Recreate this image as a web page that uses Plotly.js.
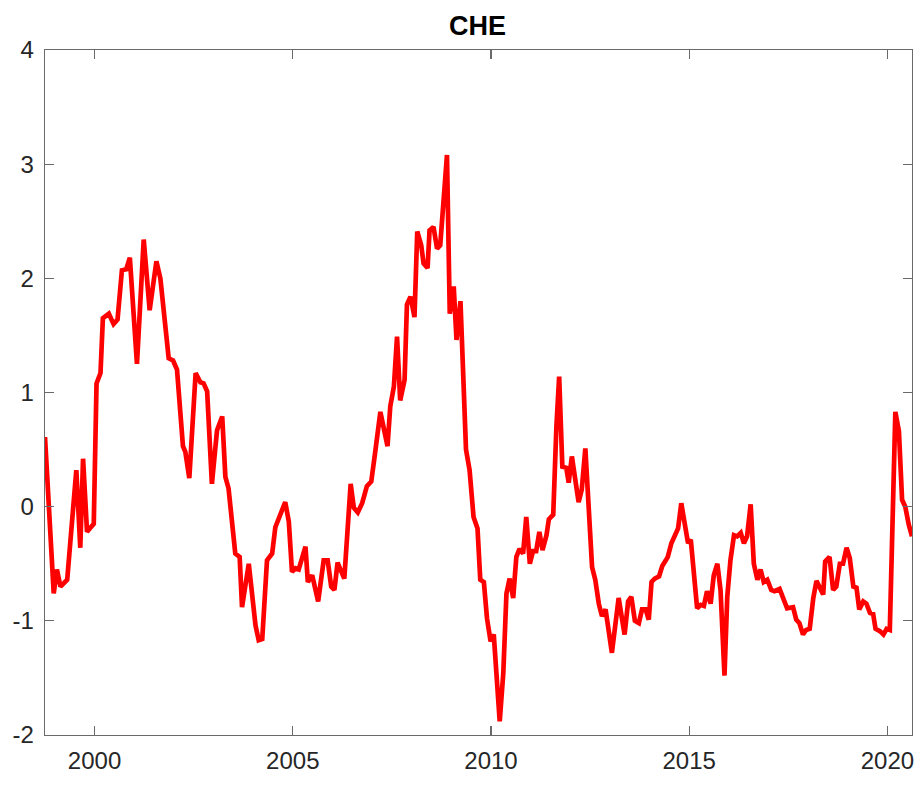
<!DOCTYPE html>
<html>
<head>
<meta charset="utf-8">
<script src="https://cdn.plot.ly/plotly-3.0.1.min.js"></script>
<style>
html, body { margin: 0; padding: 0; background: #ffffff; }
#chart { width: 922px; height: 785px; }
</style>
</head>
<body>
<div id="chart"></div>
<script>
// Time (decimal years) and CHE series values
const dates = [
  1998.75, 1998.97, 1999.05, 1999.14, 1999.31, 1999.41, 1999.54, 1999.64, 1999.71, 1999.81,
  1999.98, 2000.05, 2000.15, 2000.21, 2000.36, 2000.48, 2000.58, 2000.69, 2000.80, 2000.89,
  2001.07, 2001.24, 2001.39, 2001.56, 2001.66, 2001.87, 2001.98, 2002.08, 2002.23, 2002.29,
  2002.39, 2002.55, 2002.67, 2002.75, 2002.84, 2002.96, 2003.09, 2003.22, 2003.30, 2003.38,
  2003.55, 2003.66, 2003.72, 2003.89, 2004.06, 2004.14, 2004.23, 2004.35, 2004.48, 2004.56,
  2004.67, 2004.81, 2004.90, 2004.98, 2005.07, 2005.15, 2005.32, 2005.38, 2005.49, 2005.64,
  2005.78, 2005.88, 2005.97, 2006.05, 2006.13, 2006.30, 2006.46, 2006.54, 2006.64, 2006.75,
  2006.87, 2006.98, 2007.08, 2007.21, 2007.39, 2007.46, 2007.55, 2007.63, 2007.71, 2007.82,
  2007.88, 2007.97, 2008.07, 2008.14, 2008.24, 2008.30, 2008.40, 2008.45, 2008.55, 2008.64,
  2008.72, 2008.81, 2008.89, 2008.96, 2009.06, 2009.13, 2009.23, 2009.37, 2009.46, 2009.56,
  2009.66, 2009.73, 2009.82, 2009.90, 2009.99, 2010.07, 2010.14, 2010.22, 2010.31, 2010.39,
  2010.47, 2010.56, 2010.64, 2010.72, 2010.81, 2010.89, 2010.98, 2011.06, 2011.14, 2011.22,
  2011.30, 2011.40, 2011.46, 2011.57, 2011.65, 2011.72, 2011.80, 2011.90, 2011.96, 2012.04,
  2012.21, 2012.29, 2012.38, 2012.55, 2012.63, 2012.72, 2012.80, 2012.89, 2013.05, 2013.22,
  2013.37, 2013.46, 2013.54, 2013.63, 2013.73, 2013.81, 2013.90, 2013.98, 2014.05, 2014.13,
  2014.24, 2014.32, 2014.41, 2014.46, 2014.55, 2014.66, 2014.72, 2014.80, 2014.89, 2014.97,
  2015.04, 2015.20, 2015.29, 2015.37, 2015.45, 2015.54, 2015.62, 2015.71, 2015.79, 2015.89,
  2015.96, 2016.04, 2016.13, 2016.21, 2016.30, 2016.38, 2016.46, 2016.55, 2016.63, 2016.72,
  2016.80, 2016.88, 2016.97, 2017.07, 2017.15, 2017.28, 2017.47, 2017.62, 2017.70, 2017.78,
  2017.87, 2017.95, 2018.04, 2018.13, 2018.21, 2018.29, 2018.38, 2018.43, 2018.54, 2018.63,
  2018.71, 2018.80, 2018.88, 2018.97, 2019.05, 2019.14, 2019.22, 2019.29, 2019.39, 2019.47,
  2019.56, 2019.64, 2019.70, 2019.81, 2019.90, 2019.98, 2020.06, 2020.20, 2020.29, 2020.37,
  2020.45, 2020.54, 2020.62
];

const cheValues = [
  0.61, -0.76, -0.55, -0.70, -0.64, -0.20, 0.32, -0.36, 0.42, -0.22,
  -0.15, 1.08, 1.17, 1.65, 1.69, 1.60, 1.64, 2.07, 2.08, 2.18,
  1.25, 2.34, 1.72, 2.15, 2.00, 1.30, 1.28, 1.20, 0.53, 0.48,
  0.25, 1.17, 1.09, 1.08, 1.01, 0.20, 0.67, 0.79, 0.26, 0.16,
  -0.41, -0.44, -0.88, -0.50, -1.04, -1.17, -1.16, -0.47, -0.41, -0.18,
  -0.09, 0.04, -0.13, -0.57, -0.54, -0.55, -0.35, -0.66, -0.60, -0.83,
  -0.47, -0.47, -0.70, -0.73, -0.49, -0.63, 0.20, -0.01, -0.05, 0.03,
  0.18, 0.22, 0.48, 0.83, 0.53, 0.88, 1.05, 1.49, 0.93, 1.11,
  1.77, 1.84, 1.66, 2.41, 2.29, 2.13, 2.09, 2.42, 2.45, 2.26,
  2.29, 2.69, 3.08, 1.69, 1.93, 1.46, 1.80, 0.50, 0.32, -0.09,
  -0.19, -0.64, -0.66, -0.98, -1.18, -1.12, -1.52, -1.88, -1.46, -0.76,
  -0.63, -0.80, -0.44, -0.37, -0.41, -0.09, -0.50, -0.39, -0.39, -0.22,
  -0.38, -0.25, -0.11, -0.07, 0.70, 1.14, 0.35, 0.34, 0.21, 0.44,
  0.04, 0.15, 0.51, -0.53, -0.64, -0.85, -0.96, -0.90, -1.28, -0.80,
  -1.12, -0.83, -0.79, -1.00, -1.02, -0.90, -0.90, -0.99, -0.66, -0.63,
  -0.61, -0.52, -0.47, -0.44, -0.32, -0.22, -0.19, 0.03, -0.18, -0.32,
  -0.29, -0.89, -0.86, -0.87, -0.74, -0.85, -0.60, -0.50, -0.73, -1.48,
  -0.79, -0.47, -0.25, -0.26, -0.23, -0.32, -0.26, 0.02, -0.50, -0.64,
  -0.55, -0.66, -0.64, -0.73, -0.74, -0.72, -0.89, -0.88, -0.99, -1.02,
  -1.12, -1.08, -1.07, -0.80, -0.65, -0.70, -0.77, -0.48, -0.44, -0.73,
  -0.70, -0.50, -0.50, -0.36, -0.45, -0.70, -0.71, -0.90, -0.83, -0.85,
  -0.93, -0.94, -1.07, -1.09, -1.12, -1.07, -1.08, 0.83, 0.66, 0.06,
  0.00, -0.16, -0.26
];

const xTickVals = [2000, 2005, 2010, 2015, 2020];
const xTickText = ["2000", "2005", "2010", "2015", "2020"];
const yTickVals = [-2, -1, 0, 1, 2, 3, 4];
const yTickText = ["-2", "-1", "0", "1", "2", "3", "4"];
const chartTitle = "CHE";

const trace = {
  x: dates,
  y: cheValues,
  type: "scatter",
  mode: "lines",
  line: { color: "#ff0000", width: 4.7 },
  hoverinfo: "x+y"
};

const axisCommon = {
  showgrid: false,
  zeroline: false,
  showline: true,
  linecolor: "#6a6a6a",
  linewidth: 1.3,
  mirror: "ticks",
  ticks: "inside",
  ticklen: 9,
  tickwidth: 1.3,
  tickcolor: "#6a6a6a",
  tickfont: { family: "Liberation Sans, Arial, sans-serif", size: 24, color: "#262626" }
};

const layout = {
  width: 922,
  height: 785,
  paper_bgcolor: "#ffffff",
  plot_bgcolor: "#ffffff",
  margin: { l: 45, r: 10, t: 50, b: 50 },
  showlegend: false,
  title: {
    text: "<b>" + chartTitle + "</b>",
    font: { family: "Liberation Sans, Arial, sans-serif", size: 27, color: "#000000" },
    x: 0.518, xanchor: "center",
    y: 0.967, yanchor: "middle", yref: "container"
  },
  xaxis: Object.assign({}, axisCommon, {
    range: [1998.75, 2020.62],
    tickmode: "array",
    tickvals: xTickVals,
    ticktext: xTickText,
    ticklabelstandoff: 4
  }),
  yaxis: Object.assign({}, axisCommon, {
    range: [-2, 4],
    tickmode: "array",
    tickvals: yTickVals,
    ticktext: yTickText,
    ticklabelstandoff: 5
  })
};

Plotly.newPlot("chart", [trace], layout, { displayModeBar: false, staticPlot: true });
</script>
</body>
</html>
